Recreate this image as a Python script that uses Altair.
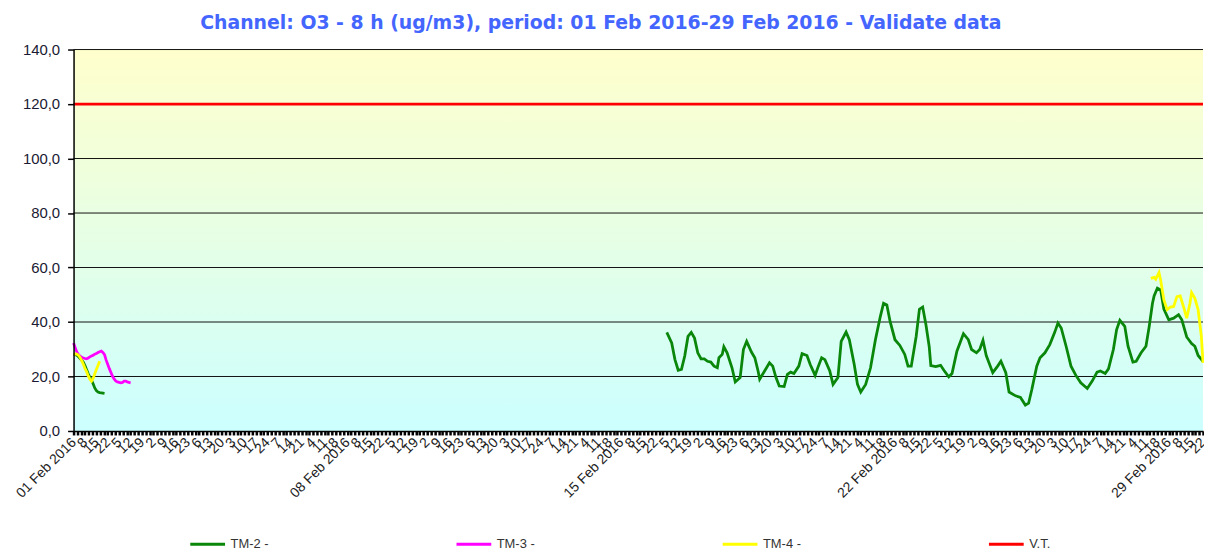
import altair as alt
import pandas as pd

TITLE = "Channel: O3 - 8 h (ug/m3), period: 01 Feb 2016-29 Feb 2016 - Validate data"
SERIES = ["TM-2 -", "TM-3 -", "TM-4 -", "V.T."]
COLORS = ["#0A870A", "#FF00FF", "#FFFF00", "#FF0000"]

# hour index: 1 = 01 Feb 2016 hour 1, 694 = 29 Feb 2016 hour 22
X_DOMAIN = [1, 694]
Y_TICKS = [0, 20, 40, 60, 80, 100, 120, 140]

TM2_A_HOURS = list(range(1, 21))
TM2_A_VALUES = [28.0, 28.0, 27.8, 27.3, 26.6, 26.0, 25.2, 24.0, 22.5, 21.0,
                19.8, 18.7, 17.3, 15.8, 14.8, 14.3, 14.1, 14.0, 13.9, 13.8]

TM2_B_HOURS = [365, 368, 370, 372, 374, 376, 378, 380, 382, 384, 386, 388, 390, 392, 394,
               396, 397, 399, 400, 402, 405, 407, 410, 412, 414, 417, 419, 421, 422, 425,
               428, 430, 432, 434, 437, 439, 441, 443, 446, 448, 451, 453, 456, 458, 460,
               462, 465, 467, 470, 472, 475, 477, 480, 482, 484, 487, 490, 493, 496, 498,
               500, 502, 505, 508, 511, 513, 515, 518, 520, 522, 524, 526, 527, 530, 533,
               535, 538, 540, 543, 547, 550, 552, 555, 557, 559, 561, 565, 568, 570, 573,
               575, 579, 582, 585, 587, 589, 592, 594, 597, 600, 603, 605, 607, 610, 613,
               616, 619, 623, 626, 629, 631, 634, 636, 639, 641, 643, 646, 648, 651, 653,
               656, 659, 661, 663, 664, 666, 668, 670, 673, 676, 679, 681, 684, 687, 689,
               691, 694]
TM2_B_VALUES = [36.2, 32.3, 26.2, 22.3, 22.6, 27.5, 34.7, 36.2, 34.1, 28.7, 26.5, 26.5, 25.6, 25.3, 23.8,
                23.2, 26.9, 28.1, 30.9, 28.7, 23.2, 18.0, 19.6, 29.9, 32.9, 28.9, 26.9, 22.0, 19.0, 22.0,
                25.0, 23.8, 19.6, 16.5, 16.3, 20.8, 21.6, 21.1, 23.8, 28.4, 27.7, 24.4, 20.4, 23.8, 26.9,
                26.2, 22.0, 17.1, 19.6, 32.9, 36.3, 33.5, 24.4, 17.1, 14.3, 17.1, 23.2, 33.5, 42.0, 46.9,
                46.3, 40.2, 33.5, 31.4, 28.1, 23.8, 23.8, 34.7, 44.7, 45.5, 39.0, 31.0, 24.0, 23.6, 24.1,
                22.3, 19.9, 21.1, 29.3, 35.7, 33.5, 29.9, 28.7, 29.9, 33.3, 27.7, 21.4, 23.8, 25.6, 21.4,
                14.3, 12.9, 12.3, 9.5, 10.2, 15.3, 23.8, 26.9, 28.7, 31.7, 36.2, 39.6, 37.8, 31.1, 23.8,
                20.4, 17.7, 15.6, 18.3, 21.6, 22.0, 21.1, 22.8, 29.9, 37.2, 40.6, 38.4, 31.1, 25.3, 25.6,
                28.7, 31.1, 38.4, 46.9, 49.6, 52.4, 51.8, 44.7, 40.8, 41.4, 42.7, 40.8, 34.5, 32.1, 31.1,
                27.7, 25.6]

TM3_HOURS = list(range(1, 37))
TM3_VALUES = [32.3, 30.5, 29.0, 28.0, 27.5, 27.0, 26.8, 26.6, 26.5, 26.8, 27.2, 27.5,
              27.8, 28.2, 28.4, 28.8, 29.1, 29.3, 28.8, 28.0, 26.0, 24.4, 22.8, 21.4,
              20.0, 19.0, 18.3, 18.0, 17.8, 17.7, 17.8, 18.3, 18.3, 18.0, 17.8, 17.7]

TM4_A_HOURS = list(range(1, 18))
TM4_A_VALUES = [28.0, 28.3, 28.2, 27.8, 27.0, 25.8, 24.5, 23.0, 21.8, 20.2, 19.0, 18.3,
                19.3, 21.0, 22.6, 24.0, 25.6]

TM4_B_HOURS = [662, 664, 665, 667, 668, 670, 672, 674, 676, 678, 680, 682, 684, 686, 687,
               689, 691, 693, 694]
TM4_B_VALUES = [56.0, 56.4, 55.7, 58.1, 55.4, 48.1, 44.5, 45.5, 45.7, 49.3, 49.6, 45.7,
                41.4, 46.9, 50.8, 48.7, 44.5, 34.7, 25.0]

VT_HOURS = [1, 694]
VT_VALUES = [120, 120]

segments = [
    ("TM-2 -", "a", TM2_A_HOURS, TM2_A_VALUES),
    ("TM-2 -", "b", TM2_B_HOURS, TM2_B_VALUES),
    ("TM-3 -", "a", TM3_HOURS, TM3_VALUES),
    ("TM-4 -", "a", TM4_A_HOURS, TM4_A_VALUES),
    ("TM-4 -", "b", TM4_B_HOURS, TM4_B_VALUES),
    ("V.T.", "a", VT_HOURS, VT_VALUES),
]
rows = []
for s, seg, hs, vs in segments:
    for h, v in zip(hs, vs):
        rows.append({"hour": h, "value": v, "series": s, "seg": s + seg})
df = pd.DataFrame(rows)

bg = pd.DataFrame({"x": [X_DOMAIN[0]], "x2": [X_DOMAIN[1]], "y": [Y_TICKS[0]], "y2": [Y_TICKS[-1]]})
grid = pd.DataFrame({"v": Y_TICKS[1:]})

x_tick_values = [round(X_DOMAIN[0] + k * 7 / 3, 4) for k in range(int((X_DOMAIN[1] - X_DOMAIN[0]) * 3 / 7) + 1)]

label_expr = (
    "abs((datum.value-1)/7 - round((datum.value-1)/7)) < 0.01 ? "
    "((round(datum.value)-1) % 168 == 0 ? "
    "((floor((round(datum.value)-1)/24)+1 < 10 ? '0' : '') + (floor((round(datum.value)-1)/24)+1) + ' Feb 2016') : "
    "('' + (((round(datum.value)-1) % 24) + 1))) : ''"
)

xscale = alt.Scale(domain=X_DOMAIN, nice=False, zero=False)
yscale = alt.Scale(domain=[Y_TICKS[0], Y_TICKS[-1]], nice=False)

xaxis = alt.Axis(values=x_tick_values, labelExpr=label_expr, labelAngle=315, labelAlign="right",
                 labelBaseline="middle", labelOverlap=False, labelFlush=False, labelBound=False,
                 tickSize=4, tickWidth=2.5, tickColor="#000", domainColor="#000", domainWidth=1.5,
                 labelFont="Liberation Sans", labelFontSize=14, labelColor="#222", labelPadding=5,
                 labelLimit=300, grid=False, title=None, zindex=1)
yaxis = alt.Axis(values=Y_TICKS, labelExpr="replace(format(datum.value, '.1f'), '.', ',')",
                 labelFont="Liberation Sans", labelFontSize=15, labelColor="#1a1a33",
                 tickSize=6, tickColor="#000", tickWidth=1.5, domainColor="#000", domainWidth=1.5,
                 labelPadding=8, grid=False, title=None, zindex=1)

X = alt.X("x:Q", scale=xscale, axis=xaxis)
Y = alt.Y("y:Q", scale=yscale, axis=yaxis)

bg_layer = alt.Chart(bg).mark_rect(
    fill=alt.Gradient(gradient="linear",
                      stops=[alt.GradientStop(color="#FFFFCC", offset=0),
                             alt.GradientStop(color="#CCFFFF", offset=1)],
                      x1=0, x2=0, y1=0, y2=1)
).encode(x=X, x2="x2:Q", y=Y, y2="y2:Q")

grid_layer = alt.Chart(grid).mark_rule(color="#111", strokeWidth=1).encode(
    y=alt.Y("v:Q", scale=yscale, axis=yaxis))

line_layer = alt.Chart(df).mark_line(strokeWidth=2.8).encode(
    x=alt.X("hour:Q", scale=xscale, axis=xaxis),
    y=alt.Y("value:Q", scale=yscale, axis=yaxis),
    color=alt.Color("series:N", scale=alt.Scale(domain=SERIES, range=COLORS),
                    legend=alt.Legend(orient="none", legendX=116, legendY=479, direction="horizontal",
                                      columns=4, columnPadding=182, symbolType="stroke",
                                      symbolSize=1225, symbolStrokeWidth=3, labelFont="Liberation Sans",
                                      labelFontSize=13, labelColor="#333", title=None, labelOffset=4)),
    detail="seg:N",
)

chart = alt.layer(bg_layer, grid_layer, line_layer).properties(
    width=1137, height=384,
    autosize=alt.AutoSizeParams(type="none"),
    padding={"left": 66, "top": 40, "right": 1, "bottom": 119},
    title=alt.TitleParams(TITLE, font="DejaVu Sans", fontSize=19, fontWeight="bold", color="#4466FF",
                          anchor="start", dx=188, offset=10),
).configure_view(stroke=None)

chart.save("out.html", embed_options={"renderer": "svg", "actions": False})
